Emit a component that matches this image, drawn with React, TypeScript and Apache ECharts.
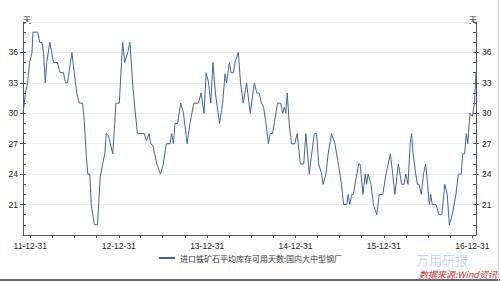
import React, { useEffect, useRef } from "react";
import * as echarts from "echarts";

const seriesName = "进口铁矿石平均库存可用天数:国内大中型钢厂";
const unitLabel = "天";
const sourceText = "数据来源:Wind资讯";
const watermarkText = "万用研报";

const dates: string[] = [
  "2011-12-01", "2011-12-07", "2011-12-11", "2011-12-20", "2011-12-28",
  "2012-01-07", "2012-01-11", "2012-01-31", "2012-02-08", "2012-02-17",
  "2012-02-24", "2012-03-02", "2012-03-08", "2012-03-21", "2012-04-05",
  "2012-04-21", "2012-05-02", "2012-05-16", "2012-05-25", "2012-06-02",
  "2012-06-20", "2012-06-29", "2012-07-10", "2012-07-21", "2012-08-03",
  "2012-08-10", "2012-08-18", "2012-08-25", "2012-09-02", "2012-09-08",
  "2012-09-21", "2012-10-04", "2012-10-15", "2012-10-25", "2012-11-03",
  "2012-11-09", "2012-11-18", "2012-11-26", "2012-12-06", "2012-12-14",
  "2012-12-19", "2013-01-02", "2013-01-11", "2013-01-16", "2013-01-24",
  "2013-02-06", "2013-02-15", "2013-02-27", "2013-03-08", "2013-03-18",
  "2013-04-15", "2013-04-24", "2013-05-05", "2013-05-12", "2013-05-21",
  "2013-06-06", "2013-06-21", "2013-07-03", "2013-07-15", "2013-07-31",
  "2013-08-06", "2013-08-14", "2013-08-20", "2013-08-31", "2013-09-13",
  "2013-09-24", "2013-10-09", "2013-10-21", "2013-11-06", "2013-11-25",
  "2013-12-06", "2013-12-18", "2013-12-27", "2014-01-06", "2014-01-15",
  "2014-01-24", "2014-02-03", "2014-02-20", "2014-03-05", "2014-03-15",
  "2014-03-21", "2014-04-02", "2014-04-09", "2014-04-18", "2014-04-27",
  "2014-05-09", "2014-05-18", "2014-05-29", "2014-06-12", "2014-06-27",
  "2014-07-14", "2014-07-24", "2014-08-03", "2014-08-12", "2014-08-21",
  "2014-08-31", "2014-09-10", "2014-09-18", "2014-09-27", "2014-10-11",
  "2014-10-18", "2014-10-31", "2014-11-08", "2014-11-15", "2014-11-21",
  "2014-11-27", "2014-12-05", "2014-12-15", "2014-12-28", "2015-01-07",
  "2015-01-20", "2015-02-03", "2015-02-12", "2015-02-26", "2015-03-08",
  "2015-03-19", "2015-03-28", "2015-04-06", "2015-04-18", "2015-04-24",
  "2015-05-06", "2015-05-15", "2015-05-29", "2015-06-12", "2015-06-26",
  "2015-07-09", "2015-07-18", "2015-07-31", "2015-08-06", "2015-08-12",
  "2015-08-21", "2015-08-27", "2015-09-18", "2015-09-24", "2015-10-06",
  "2015-10-15", "2015-10-21", "2015-10-27", "2015-11-08", "2015-11-18",
  "2015-12-02", "2015-12-12", "2015-12-27", "2016-01-09", "2016-01-27",
  "2016-02-06", "2016-02-15", "2016-02-29", "2016-03-14", "2016-03-24",
  "2016-03-31", "2016-04-09", "2016-04-18", "2016-04-24", "2016-04-30",
  "2016-05-11", "2016-05-18", "2016-05-24", "2016-06-03", "2016-06-12",
  "2016-06-21", "2016-06-29", "2016-07-06", "2016-07-12", "2016-07-18",
  "2016-08-03", "2016-08-15", "2016-08-27", "2016-09-08", "2016-09-18",
  "2016-09-27", "2016-10-09", "2016-10-24", "2016-11-03", "2016-11-15",
  "2016-11-21", "2016-11-29", "2016-12-06", "2016-12-12", "2016-12-21",
  "2016-12-31", "2017-01-09", "2017-01-15",
];

const values: number[] = [
  30, 31.1, 32, 33, 35,
  36, 38, 38, 37, 37,
  36, 33, 35, 37, 35,
  35, 34, 34, 33, 33,
  36, 34.2, 32, 31, 31,
  29.3, 26, 24, 24, 21,
  19, 19, 23.7, 25, 26,
  28, 27.8, 27, 26, 29,
  31, 31, 35, 37, 35,
  36, 37, 32.6, 30.3, 28,
  28, 27.3, 28, 27, 26.8,
  25, 24, 25, 27, 27,
  28, 27, 29, 29, 31,
  30, 27, 29, 31, 31,
  32, 30, 34, 33, 31,
  35, 32, 29, 31, 33.9,
  33, 35, 34, 34, 35.2,
  36, 33, 31, 33, 30,
  33, 32, 32, 31, 30.6,
  29, 27, 28, 28, 30,
  31, 31, 30, 30.6, 30,
  32, 29, 27, 27, 28,
  25, 25, 28, 24, 26,
  28, 28, 25, 24, 23,
  24, 26, 28, 27, 25,
  23, 21, 21, 22, 21,
  22, 22, 25, 25, 22,
  24, 23, 24, 23, 21,
  20, 22, 22, 24, 26,
  24, 22, 25, 23, 23,
  24, 23, 27, 28, 26,
  24, 23, 23, 22, 24,
  25, 23, 21, 22, 21,
  21, 20, 20, 23, 22,
  19, 20, 22, 24, 24,
  26, 26, 28, 27, 30,
  29.7, 31, 34,
];

const xLabelDates: string[] = ["2011-12-31", "2012-12-31", "2013-12-31", "2014-12-31", "2015-12-31", "2016-12-31"];
const xTickDates: string[] = [
  "2011-12-31", "2012-03-31", "2012-06-30", "2012-09-30",
  "2012-12-31", "2013-03-31", "2013-06-30", "2013-09-30",
  "2013-12-31", "2014-03-31", "2014-06-30", "2014-09-30",
  "2014-12-31", "2015-03-31", "2015-06-30", "2015-09-30",
  "2015-12-31", "2016-03-31", "2016-06-30", "2016-09-30",
  "2016-12-31",
];
const xMinDate = "2011-12-01";
const xMaxDate = "2017-01-15";
const yMin = 18;
const yMax = 39;
const yStep = 3;

const pad = (n: number) => (n < 10 ? "0" + n : "" + n);
const fmtDate = (t: number) => {
  const d = new Date(t);
  return pad(d.getUTCFullYear() % 100) + "-" + pad(d.getUTCMonth() + 1) + "-" + pad(d.getUTCDate());
};

export default function App() {
  const ref = useRef<HTMLDivElement>(null);
  useEffect(() => {
    if (!ref.current) return;
    const chart = echarts.init(ref.current, undefined, { renderer: "svg" });
    const font = "'Liberation Sans', Arial, sans-serif";
    const cjk = "'Noto Sans CJK SC', sans-serif";
    const lineColor = "#41678f";
    const axisColor = "#555";
    const labelStyle = { color: "#222", fontSize: 8.5, fontFamily: font };
    const mainY = (position: "left" | "right", margin: number) => ({
      type: "value",
      position,
      min: yMin,
      max: yMax,
      interval: yStep,
      axisLine: { show: true, lineStyle: { color: axisColor, width: 1 } },
      axisTick: { show: true, inside: false, length: 3, lineStyle: { color: axisColor } },
      axisLabel: { ...labelStyle, margin, showMinLabel: false, showMaxLabel: false },
      splitLine: position === "left" ? { show: true, lineStyle: { color: "#f1ecef", width: 1 } } : { show: false },
    });
    const minorY = (position: "left" | "right") => ({
      type: "value",
      position,
      min: yMin,
      max: yMax,
      interval: 1,
      axisLine: { show: false },
      axisTick: { show: true, inside: true, length: 3, lineStyle: { color: axisColor } },
      axisLabel: { show: false },
      splitLine: { show: false },
    });
    chart.setOption({
      animation: false,
      backgroundColor: "#ffffff",
      grid: { left: 23, right: 24, top: 22, bottom: 46, containLabel: false },
      xAxis: {
        type: "value",
        min: Date.parse(xMinDate),
        max: Date.parse(xMaxDate),
        axisLine: { show: true, lineStyle: { color: axisColor, width: 1 } },
        axisTick: {
          show: true,
          length: 3,
          lineStyle: { color: axisColor },
          customValues: xTickDates.map((d) => Date.parse(d)),
        },
        axisLabel: {
          ...labelStyle,
          margin: 6,
          customValues: xLabelDates.map((d) => Date.parse(d)),
          formatter: (v: number) => fmtDate(v),
        },
        splitLine: { show: false },
      },
      yAxis: [mainY("left", 5), minorY("left"), mainY("right", 6), minorY("right")],
      legend: {
        show: true,
        bottom: 14,
        left: "center",
        itemWidth: 16,
        itemHeight: 2,
        itemGap: 10,
        textStyle: { color: "#333", fontSize: 8, fontFamily: cjk },
        data: [seriesName],
      },
      series: [
        {
          name: seriesName,
          type: "line",
          symbol: "none",
          yAxisIndex: 0,
          lineStyle: { color: lineColor, width: 1 },
          itemStyle: { color: lineColor },
          data: dates.map((d, i) => [Date.parse(d), values[i]]),
        },
      ],
      graphic: [
        {
          type: "text",
          left: 23,
          top: 15,
          style: { text: unitLabel, fontSize: 8, fontFamily: cjk, fill: "#222" },
        },
        {
          type: "text",
          left: 469,
          top: 15,
          style: { text: unitLabel, fontSize: 8, fontFamily: cjk, fill: "#222" },
        },
        {
          type: "text",
          left: 416,
          top: 253,
          style: {
            text: watermarkText,
            fontSize: 13,
            fontFamily: cjk,
            fill: "rgba(120,170,220,0.45)",
          },
        },
        {
          type: "text",
          left: 419,
          top: 270,
          style: { text: sourceText, fontSize: 9, fontFamily: cjk, fill: "#d42a2a", fontStyle: "italic" },
        },
        {
          type: "line",
          shape: { x1: 0, y1: 280, x2: 500, y2: 280 },
          style: { stroke: "#666", lineWidth: 2 },
        },
        {
          type: "line",
          shape: { x1: 498.5, y1: 0, x2: 498.5, y2: 281 },
          style: { stroke: "#cfcfcf", lineWidth: 1 },
        },
      ],
    });
    return () => chart.dispose();
  }, []);
  return <div ref={ref} style={{ width: 500, height: 281, position: "absolute", left: 0, top: 0 }} />;
}
